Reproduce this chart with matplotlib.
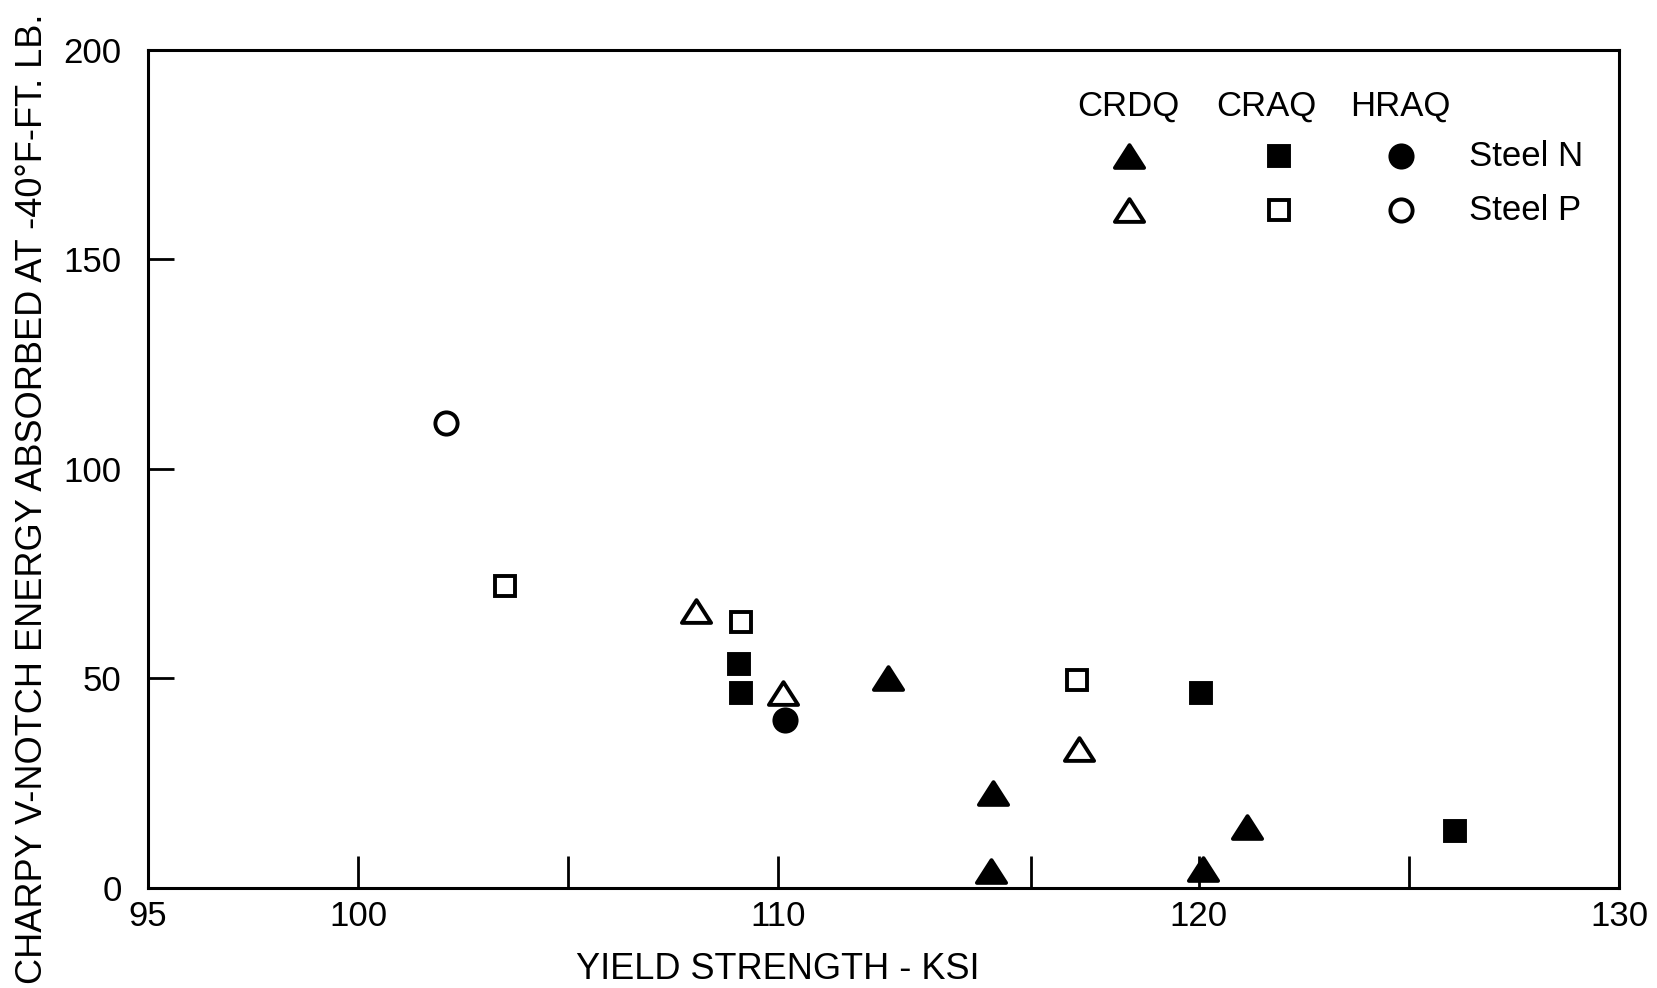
import matplotlib
matplotlib.use("Agg")
import matplotlib.pyplot as plt
from matplotlib.path import Path

plt.rcParams['font.family'] = ['Liberation Sans', 'DejaVu Sans']

# Charpy V-notch energy vs. yield strength, grouped by process and steel
crdq_n_x = [112.6, 115.1, 115.05, 120.1, 121.15]
crdq_n_y = [50.0, 22.5, 4.0, 4.5, 14.5]
crdq_p_x = [108.05, 110.1, 117.15]
crdq_p_y = [66.0, 46.5, 33.0]
craq_n_x = [109.05, 109.1, 120.05, 126.1]
craq_n_y = [53.5, 46.5, 46.5, 13.5]
craq_p_x = [103.5, 109.1, 117.1]
craq_p_y = [72.0, 63.5, 49.5]
hraq_n_x = [110.15]
hraq_n_y = [40.0]
hraq_p_x = [102.1]
hraq_p_y = [111.0]

process_names = ['CRDQ', 'CRAQ', 'HRAQ']
steel_names = ['Steel N', 'Steel P']

x_ticks = [95, 100, 110, 120, 130]
x_minor = [105, 116, 125]
y_ticks = [0, 50, 100, 150, 200]

FS = 25
tri = Path([(-1, -0.78), (1, -0.78), (0, 0.78), (-1, -0.78)],
           [Path.MOVETO, Path.LINETO, Path.LINETO, Path.CLOSEPOLY])
markers = {'CRDQ': (tri, 21.0), 'CRAQ': ('s', 14.5), 'HRAQ': ('o', 16.0)}
EW = 2.8

fig = plt.figure(figsize=(16.57, 9.88), dpi=100)
ax = fig.add_axes([0.0893, 0.1015, 0.8878, 0.8482])


def draw(xs, ys, proc, filled):
    m, ms = markers[proc]
    ax.plot(xs, ys, linestyle='none', marker=m, markersize=ms,
            markerfacecolor='black' if filled else 'white',
            markeredgecolor='black', markeredgewidth=EW, clip_on=False)


draw(crdq_n_x, crdq_n_y, 'CRDQ', True)
draw(crdq_p_x, crdq_p_y, 'CRDQ', False)
draw(craq_n_x, craq_n_y, 'CRAQ', True)
draw(craq_p_x, craq_p_y, 'CRAQ', False)
draw(hraq_n_x, hraq_n_y, 'HRAQ', True)
draw(hraq_p_x, hraq_p_y, 'HRAQ', False)

ax.set_xlim(95, 130)
ax.set_ylim(0, 200)

for s in ax.spines.values():
    s.set_linewidth(2.2)

ax.set_xticks(x_ticks)
ax.set_xticks(x_minor, minor=True)
ax.set_yticks(y_ticks)
ax.tick_params(axis='x', which='both', direction='in', length=23, width=2.0,
               labelsize=FS, pad=9)
ax.tick_params(axis='y', which='major', direction='in', length=19, width=2.0,
               labelsize=FS, pad=19)
# Ticks at the plot corners are hidden by the frame
ax.xaxis.get_major_ticks()[0].tick1line.set_visible(False)
ax.xaxis.get_major_ticks()[-1].tick1line.set_visible(False)
ax.yaxis.get_major_ticks()[0].tick1line.set_visible(False)
ax.yaxis.get_major_ticks()[-1].tick1line.set_visible(False)

# Axis titles
ax.text(0.428, -0.1084, 'YIELD STRENGTH - KSI', transform=ax.transAxes,
        fontsize=26, ha='center', va='baseline')
fig.text(42 / 1657, 1 - 499 / 988,
         'CHARPY V-NOTCH ENERGY ABSORBED AT -40°F-FT. LB.',
         fontsize=26, rotation=90, rotation_mode='anchor',
         ha='center', va='baseline')

# Key: process names across the top, steel names down the side
head_x = [0.6666, 0.760, 0.851]
mark_x = [0.6666, 0.7687, 0.852]
row_y = [0.8727, 0.8083]
for name, hx in zip(process_names, head_x):
    ax.text(hx, 0.932, name, transform=ax.transAxes, fontsize=FS,
            ha='center', va='center')
for name, ry, filled in zip(steel_names, row_y, [True, False]):
    for proc, mx in zip(process_names, mark_x):
        m, ms = markers[proc]
        ax.plot([mx], [ry], transform=ax.transAxes, linestyle='none',
                marker=m, markersize=ms,
                markerfacecolor='black' if filled else 'white',
                markeredgecolor='black', markeredgewidth=EW)
    ax.text(0.898, ry, name, transform=ax.transAxes, fontsize=FS,
            ha='left', va='center')

fig.savefig('out.png', dpi=100)
